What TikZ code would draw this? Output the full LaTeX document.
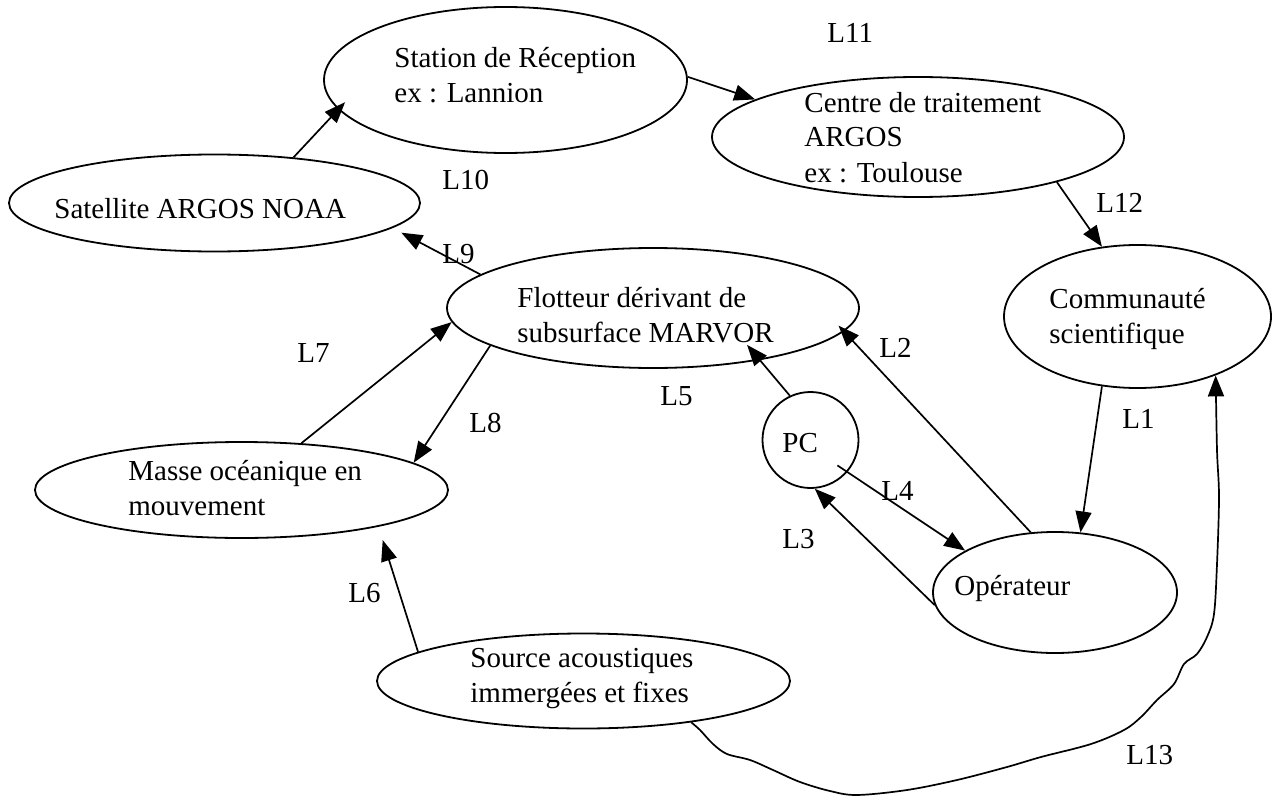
\documentclass[tikz,border=0pt]{standalone}
\usepackage{fontspec}
\setmainfont{Liberation Serif}
\usetikzlibrary{shapes.geometric, arrows.meta}
\begin{document}
\begin{tikzpicture}[x=0.5pt, y=-0.5pt,
  ell/.style={ellipse, draw, line width=0.9pt, inner sep=0pt},
  txt/.style={anchor=base west, inner sep=0pt, align=left, font=\fontsize{14.5pt}{17.5pt}\selectfont},
  lbl/.style={anchor=base west, inner sep=0pt, font=\fontsize{14.5pt}{17.5pt}\selectfont},
  arr/.style={line width=0.85pt, -{Triangle[length=10.5pt,width=8pt]}}]
\useasboundingbox (0,0) rectangle (1274,797);
% ellipses
\node[ell, minimum width=181.5pt, minimum height=73pt] (stat) at (505.5,80) {};
\node[ell, minimum width=205.5pt, minimum height=48.5pt] (sat) at (214.5,203) {};
\node[ell, minimum width=206pt, minimum height=60pt] (cen) at (918,137) {};
\node[ell, minimum width=206pt, minimum height=60pt] (flo) at (653,308) {};
\node[ell, minimum width=133.5pt, minimum height=71.5pt] (com) at (1137.5,316.5) {};
\node[ell, minimum width=206.5pt, minimum height=48pt] (mas) at (241.5,490) {};
\node[circle, draw, line width=0.9pt, inner sep=0pt, minimum size=48pt] (pc) at (810.5,440) {};
\node[ell, minimum width=122pt, minimum height=60.5pt] (ope) at (1055,592.5) {};
\node[ell, minimum width=206.5pt, minimum height=47.5pt] (src) at (583.5,681) {};
% texts (anchor = baseline of the last line)
\node[txt] (statT) at (394,103) {Station de Réception\\ex : Lannion};
\node[txt] (cenT) at (804,182) {Centre de traitement\\ARGOS\\ex : Toulouse};
\node[txt] (satT) at (54,218) {Satellite ARGOS NOAA};
\node[txt] (floT) at (517,342) {Flotteur dérivant de\\subsurface MARVOR};
\node[txt] (comT) at (1049,343) {Communauté\\scientifique};
\node[txt] (masT) at (128,515) {Masse océanique en\\mouvement};
\node[txt] (pcT) at (782,452) {PC};
\node[txt] (opeT) at (954,595) {Opérateur};
\node[txt] (srcT) at (470,702) {Source acoustiques\\immergées et fixes};
% labels
\node[lbl] (l1) at (1122,428) {L1};
\node[lbl] (l2) at (879,357) {L2};
\node[lbl] (l3) at (782,548) {L3};
\node[lbl] (l4) at (881,500) {L4};
\node[lbl] (l5) at (660,405) {L5};
\node[lbl] (l6) at (348,602) {L6};
\node[lbl] (l7) at (297,362) {L7};
\node[lbl] (l8) at (469,432) {L8};
\node[lbl] (l9) at (442,263) {L9};
\node[lbl] (l10) at (442,190) {L10};
\node[lbl] (l11) at (827,43) {L11};
\node[lbl] (l12) at (1096,212) {L12};
\node[lbl] (l13) at (1126,764) {L13};
% connectors
\draw[arr, shorten >=-5pt] (sat.30) -- (stat.190);
\draw[arr] (stat.1) -- (cen.167);
\draw[arr] (cen.-18) -- (com.117);
\draw[arr, shorten >=5pt] (flo.169) -- (sat.-8);
\draw[arr] (mas.38) -- (flo.184);
\draw[arr] (flo.193) -- (mas.9.5);
\draw[arr, shorten >=7pt] (src.170) -- (mas.-15.7);
\draw[arr, shorten >=-10pt] (pc.115) -- (flo.-26.6);
\draw[arr, shorten >=-4pt] (ope.112) -- (flo.-7);
\draw[arr] (ope.186) -- (pc.-85);
\draw[arr, shorten <=-6pt] (pc.-41) -- (ope.155);
\draw[arr] (com.243) -- (ope.67);
\draw[arr] plot[smooth, tension=0.55] coordinates {(src.-21) (700,730) (713,744) (727,754) (750,760) (773,770) (800,782) (830,791) (857,795) (907,790) (957,780) (1007,767) (1041,757) (1091,744) (1124,730) (1141,717) (1157,700) (1174,684) (1184,664) (1197,654) (1207,637) (1214,614) (1217,564) (1219,497) (1217,450) (com.-37)};
\end{tikzpicture}
\end{document}
